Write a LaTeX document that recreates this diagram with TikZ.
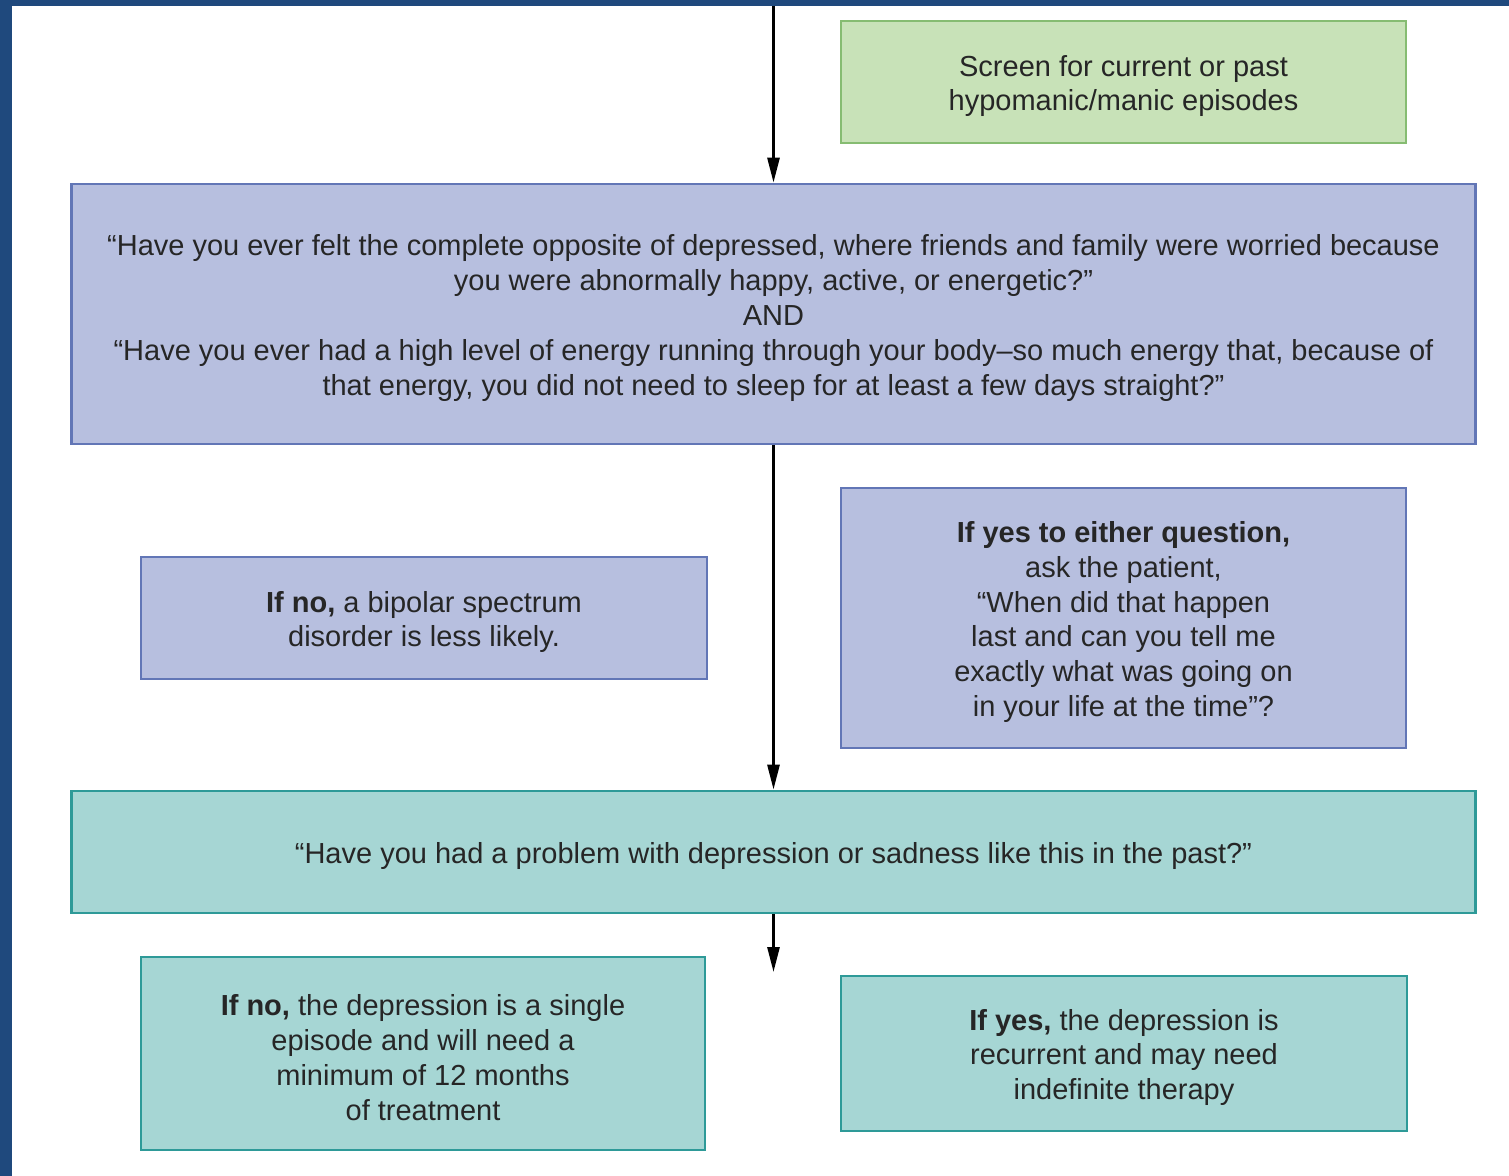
\documentclass[tikz,border=0pt]{standalone}
\usepackage{fontspec}
\setmainfont{Liberation Sans}
\usepackage{xcolor}
\usetikzlibrary{arrows.meta}

\definecolor{frameblue}{HTML}{1F497D}
\definecolor{greenfill}{HTML}{C8E2B8}
\definecolor{greenline}{HTML}{86BC72}
\definecolor{bluefill}{HTML}{B7BFDF}
\definecolor{blueline}{HTML}{6276B6}
\definecolor{tealfill}{HTML}{A6D6D4}
\definecolor{tealline}{HTML}{2E9A98}
\definecolor{txt}{HTML}{262626}

\tikzset{
  box/.style={draw, line width=1.6pt, align=flush center, text=txt,
    font=\fontsize{16.5}{19.9}\selectfont, inner sep=0pt,
    execute at begin node={\rule{0pt}{16.5pt}}},
  greenbox/.style={box, draw=greenline, fill=greenfill},
  bluebox/.style={box, draw=blueline, fill=bluefill},
  tealbox/.style={box, draw=tealline, fill=tealfill},
}

\begin{document}
\begin{tikzpicture}[x=0.02cm,y=-0.02cm]
		\useasboundingbox (0,0) rectangle (1509,1176);
		\fill[frameblue] (0,0) rectangle (1509,1176);
		\fill[white] (12,6) rectangle (1509,1176);
		%
		\node[greenbox, minimum width=11.3cm, text width=10.6cm, minimum height=2.44cm] (S) at (1123.5,82)
			{Screen for current or past\\hypomanic/manic episodes};
		\node[bluebox, minimum width=28.1cm, text width=27.4cm, minimum height=5.2cm] (Q) at (773.5,314)
			{“Have you ever felt the complete opposite of depressed, where friends and family were worried because\\
			you were abnormally happy, active, or energetic?”\\
			AND\\
			“Have you ever had a high level of energy running through your body–so much energy that, because of\\
			that energy, you did not need to sleep for at least a few days straight?”};
		\node[bluebox, minimum width=11.32cm, text width=10.6cm, minimum height=2.44cm] (Qn) at (424,618)
			{\textbf{If no,} a bipolar spectrum\\disorder is less likely.};
		\node[bluebox, minimum width=11.3cm, text width=10.6cm, minimum height=5.2cm] (Qy) at (1123.5,618)
			{\textbf{If yes to either question,}\\ask the patient,\\“When did that happen\\last and can you tell me\\exactly what was going on\\in your life at the time”?};
		\node[tealbox, minimum width=28.1cm, text width=27.4cm, minimum height=2.44cm] (P) at (773.5,852)
			{“Have you had a problem with depression or sadness like this in the past?”};
		\node[tealbox, minimum width=11.28cm, text width=10.6cm, minimum height=3.86cm] (Pn) at (423,1053.5)
			{\textbf{If no,} the depression is a single\\episode and will need a\\minimum of 12 months\\of treatment};
		\node[tealbox, minimum width=11.32cm, text width=10.6cm, minimum height=3.1cm] (Py) at (1124,1053.5)
			{\textbf{If yes,} the depression is\\recurrent and may need\\indefinite therapy};
		%
		\coordinate (top) at (773.5,6);
		\coordinate (end) at (773.5,972);
		\path[-{Triangle[length=0.5cm,width=0.24cm]},line width=1.6pt,black]
		(top) edge (Q.north)
		(Q) edge (P)
		(P) edge (end);
		\end{tikzpicture}
\end{document}
